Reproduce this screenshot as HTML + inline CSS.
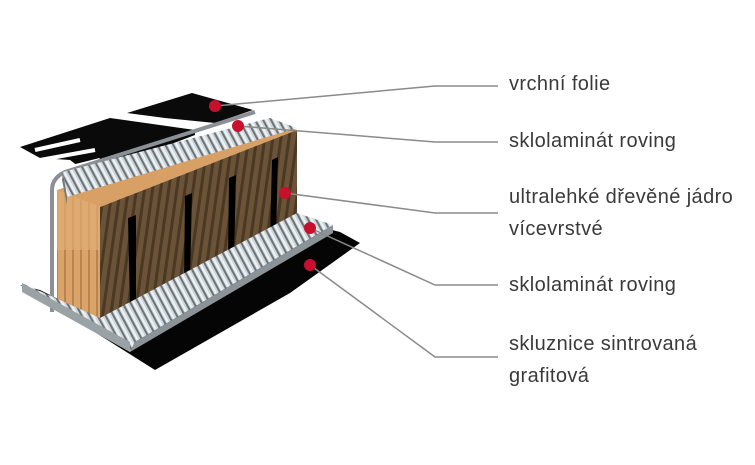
<!DOCTYPE html>
<html><head><meta charset="utf-8"><style>
html,body{margin:0;padding:0;background:#fff;}
svg{display:block}
text{font-family:"Liberation Sans",sans-serif;font-size:20px;letter-spacing:0.4px;fill:#3a3a3a;}
</style></head><body>
<svg width="755" height="465" viewBox="0 0 755 465" xmlns="http://www.w3.org/2000/svg">
<defs>
<pattern id="glass" width="7" height="12" patternUnits="userSpaceOnUse" patternTransform="rotate(-28)">
<rect width="7" height="12" fill="#cfd6da"/>
<rect x="0" width="2" height="12" fill="#6c7479"/>
<rect x="3" width="2" height="12" fill="#eef2f4"/>
</pattern>
<pattern id="wood" width="8" height="20" patternUnits="userSpaceOnUse" patternTransform="rotate(8)">
<rect width="8" height="20" fill="#6b5338"/>
<rect x="0" width="3" height="20" fill="#4a3824"/>
</pattern>
<pattern id="woodl" width="8" height="20" patternUnits="userSpaceOnUse">
<rect width="8" height="20" fill="#d9a36a"/>
<rect x="0" width="2" height="20" fill="#b88450"/>
</pattern>
</defs>
<polygon points="20,285 155,370 290,293 360,243 340,232 300,222 100,320 40,290" fill="#050505"/>
<polygon points="127,113 192,93 253,110 215,123 165,118" fill="#0a0a0a"/>
<polygon points="20,147 110,118 195,130 195,135 90,175 70,160 40,158" fill="#0a0a0a"/>
<path d="M35,150 L80,140 M40,160 L95,150 M60,170 L100,160" stroke="#fff" stroke-width="4"/>
<path d="M255,112 L65,172 Q52,178 52,190 L52,312" fill="none" stroke="#8a9095" stroke-width="4"/>
<polygon points="57,190 100,207 100,320 57,302" fill="url(#woodl)"/>
<rect x="57" y="190" width="43" height="60" fill="#e0ac72" opacity="0.7"/>
<polygon points="57,190 100,207 297,130 270,120" fill="#d9a066"/>
<polygon points="100,207 297,130 297,222 100,320" fill="url(#wood)"/>
<polygon points="128,218 136,215 136,303 130,306" fill="#000"/>
<polygon points="185,196 192,193 190,280 184,283" fill="#000"/>
<polygon points="229,178 236,175 234,259 228,262" fill="#000"/>
<polygon points="272,160 278,157 276,236 270,240" fill="#000"/>
<polygon points="63,172 270,118 297,128 67,197" fill="url(#glass)"/>
<polygon points="63,172 67,197 67,205 62,180" fill="#777"/>
<polygon points="22,283 100,318 297,213 333,225 135,342 130,352 22,290" fill="url(#glass)"/>
<polygon points="135,342 333,225 333,233 130,352" fill="#8b9398"/>
<polygon points="22,283 130,342 130,352 22,292" fill="#9aa2a6"/>
<g fill="none" stroke="#8a8a8a" stroke-width="1.5">
<polyline points="215,106 435,86 498,86"/>
<polyline points="238,126 300,131 435,142 498,142"/>
<polyline points="285,193 435,213 498,213"/>
<polyline points="310,228 435,285 498,285"/>
<polyline points="310,265 435,357 498,357"/>
</g>
<g fill="#c8102e">
<circle cx="215" cy="106" r="6"/>
<circle cx="238" cy="126" r="6"/>
<circle cx="285" cy="193" r="6"/>
<circle cx="310" cy="228" r="6"/>
<circle cx="310" cy="265" r="6"/>
</g>
<text x="509" y="90">vrchní folie</text>
<text x="509" y="147">sklolaminát roving</text>
<text x="509" y="203">ultralehké dřevěné jádro</text>
<text x="509" y="235">vícevrstvé</text>
<text x="509" y="291">sklolaminát roving</text>
<text x="509" y="350">skluznice sintrovaná</text>
<text x="509" y="382">grafitová</text>
</svg>
</body></html>
